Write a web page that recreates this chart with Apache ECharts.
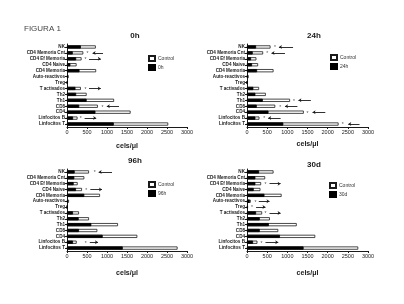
<!DOCTYPE html>
<html>
<head>
<meta charset="utf-8">
<script src="https://cdn.jsdelivr.net/npm/echarts@6/dist/echarts.min.js"></script>
<style>
  html, body { margin: 0; padding: 0; background: #fff; }
  #chart { width: 404px; height: 304px; }
</style>
</head>
<body>
<div id="chart"></div>
<script>
// categorias de arriba a abajo
var categories = ['NK', 'CD4 Memoria Cnt', 'CD4 Ef Memoria', 'CD4 Naive', 'CD4 Memoria', 'Auto-reactivos', 'Treg',
  'T activados', 'Th2', 'Th1', 'CD8', 'CD4', 'Linfocitos B', 'Linfocitos T'];

var control0h = [720, 407, 364, 240, 728, 42, 17, 347, 491, 1177, 771, 1590, 263, 2530];
var vals0h = [347, 144, 229, 85, 313, 25, 10, 212, 229, 491, 305, 711, 152, 1170];
var control24h = [583, 400, 233, 275, 658, 42, 8, 300, 467, 1067, 700, 1408, 308, 2270];
var vals24h = [225, 142, 100, 125, 250, 17, 5, 158, 208, 392, 242, 533, 208, 900];
var control96h = [550, 433, 267, 375, 825, 50, 8, 300, 550, 1275, 758, 1758, 242, 2764];
var vals96h = [192, 183, 167, 225, 433, 25, 5, 150, 292, 608, 300, 892, 150, 1394];
var control30d = [658, 450, 350, 333, 858, 92, 25, 375, 567, 1233, 775, 1692, 258, 2758];
var vals30d = [300, 208, 208, 167, 433, 67, 17, 225, 317, 542, 317, 817, 150, 1403];

// anotaciones: [indice categoria, asterisco, inicio flecha, punta flecha]
var notes0h = [[1, 510, 900, 640], [2, 462, 550, 845], [7, 462, 550, 845], [10, 889, 1300, 995], [12, 340, 440, 730]];
var notes24h = [[0, 692, 1142, 792], [1, 500, 942, 608], [9, 1167, 1583, 1275], [10, 825, 1250, 942],
  [11, 1500, 1942, 1625], [12, 425, 833, 525], [13, 2373, 2790, 2510]];
var notes96h = [[0, 692, 1125, 792], [3, 483, 583, 875], [12, 470, 570, 775]];
var notes30d = [[2, 458, 558, 833], [5, 208, 292, 558], [6, 125, 225, 458], [7, 458, 558, 833], [12, 358, 458, 775]];

var panels = [
  {name: '0h', control: control0h, vals: vals0h, notes: notes0h},
  {name: '24h', control: control24h, vals: vals24h, notes: notes24h},
  {name: '96h', control: control96h, vals: vals96h, notes: notes96h},
  {name: '30d', control: control30d, vals: vals30d, notes: notes30d}
];

var grids = [
  {left: 67, top: 44, width: 120, height: 83},
  {left: 247, top: 44, width: 121, height: 83},
  {left: 67, top: 169, width: 120, height: 82},
  {left: 247, top: 169, width: 121, height: 82}
];
var titlePos = [[130, 27], [309, 27], [130, 152], [309, 156]];
var legendPos = [[143, 50], [325, 49], [143, 176], [324, 177]];
var nameGaps = [16, 14, 19, 19];

var ink = '#1a1a1a';
var font = 'Liberation Sans, Arial, sans-serif';

var option = {
  animation: false,
  backgroundColor: '#fff',
  textStyle: {fontFamily: font},
  title: [{
    text: 'FIGURA 1', left: 19, top: 20,
    textStyle: {fontSize: 8, fontWeight: 'normal', color: '#444', fontFamily: font}
  }],
  legend: [],
  grid: [],
  xAxis: [],
  yAxis: [],
  series: []
};

panels.forEach(function (p, i) {
  option.title.push({
    text: p.name, left: titlePos[i][0], top: titlePos[i][1], textAlign: 'center',
    textStyle: {fontSize: 8, fontWeight: 'bold', color: ink, fontFamily: font}
  });
  option.grid.push(grids[i]);
  option.legend.push({
    data: ['Control', p.name],
    left: legendPos[i][0], top: legendPos[i][1],
    orient: 'vertical', itemWidth: 6, itemHeight: 5, itemGap: 2,
    icon: 'rect',
    textStyle: {fontSize: 5, color: '#333', fontFamily: font, padding: [0, 0, 0, -2]}
  });
  option.xAxis.push({
    gridIndex: i, type: 'value', min: 0, max: 3000, interval: 500,
    name: 'cels/μl', nameLocation: 'middle', nameGap: nameGaps[i],
    nameTextStyle: {fontSize: 7, fontWeight: 'bold', color: ink},
    axisLine: {show: true, lineStyle: {color: ink, width: 1}},
    axisTick: {show: true, length: 2, lineStyle: {color: ink}},
    axisLabel: {fontSize: 5.5, color: ink, margin: 2, formatter: function (v) { return String(v); }},
    splitLine: {show: false}
  });
  option.yAxis.push({
    gridIndex: i, type: 'category', data: categories, inverse: true,
    axisLine: {show: true, lineStyle: {color: ink, width: 1}},
    axisTick: {show: true, length: 2, alignWithLabel: true, lineStyle: {color: ink}},
    axisLabel: {fontSize: 4.6, fontWeight: 'bold', color: ink, margin: 2, interval: 0}
  });

  var arrows = p.notes.map(function (n) {
    return [{coord: [n[2], n[0]]}, {coord: [n[3], n[0]]}];
  });
  var stars = p.notes.map(function (n) { return [n[1], n[0]]; });

  option.series.push({
    name: 'Control', type: 'bar', xAxisIndex: i, yAxisIndex: i,
    data: p.control, barWidth: 3.2, barGap: '-100%',
    itemStyle: {color: '#fff', borderColor: ink, borderWidth: 0.8}
  });
  option.series.push({
    name: p.name, type: 'bar', xAxisIndex: i, yAxisIndex: i,
    data: p.vals, barWidth: 3.2,
    itemStyle: {color: '#000', borderColor: '#000', borderWidth: 0.8},
    markLine: {
      silent: true, symbol: ['none', 'arrow'], symbolSize: [3, 3],
      label: {show: false},
      lineStyle: {color: ink, width: 0.9, type: 'solid'},
      data: arrows
    }
  });
  option.series.push({
    type: 'scatter', xAxisIndex: i, yAxisIndex: i, data: stars,
    symbolSize: 0, silent: true,
    label: {show: true, formatter: '*', position: 'inside', fontSize: 5, color: ink, offset: [0, 1]}
  });
});

var chart = echarts.init(document.getElementById('chart'), null, {renderer: 'canvas'});
chart.setOption(option);
</script>
</body>
</html>
